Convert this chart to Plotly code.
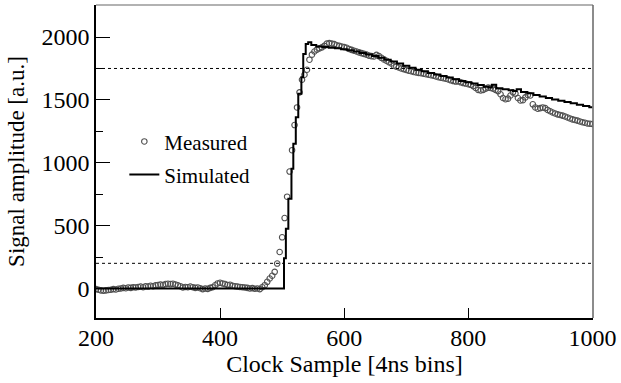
import plotly.graph_objects as go

# Measured: every 4 clock samples from 200 to 1000
meas_start, meas_step = 200, 4
meas_y = [
    -5, -10, -15, -18, -15, -12, -10, -5, -8, -2,          # 200-236
    0, 5, 2, 8, 5, 10, 8, 12, 15, 10,                     # 240-276
    18, 15, 22, 18, 25, 28, 32, 28, 35, 38,               # 280-316
    35, 38, 32, 25, 18, 8, 12, 10, 15, 10,                # 320-356
    5, 8, 2, -5, 0, -3, 5, 10, 25, 40,                    # 360-396
    45, 40, 35, 28, 30, 22, 18, 15, 12, 10,               # 400-436
    8, 5, 0, 3, -2, 0, -5, 10, 26, 53,                    # 440-476
    79, 101, 132, 198, 290, 407, 560, 730, 930, 1100,     # 480-516
    1300, 1440, 1560, 1660, 1700, 1740, 1820, 1860, 1885, 1900,  # 520-556
    1910, 1918, 1930, 1948, 1952, 1948, 1944, 1935, 1930, 1925,  # 560-596
    1920, 1915, 1905, 1898, 1891, 1885, 1878, 1872, 1866, 1860,  # 600-636
    1852, 1848, 1845, 1858, 1848, 1835, 1822, 1812, 1800, 1790,  # 640-676
    1772, 1765, 1758, 1750, 1745, 1738, 1732, 1728, 1722, 1718,  # 680-716
    1715, 1712, 1708, 1704, 1700, 1696, 1692, 1686, 1680, 1676,  # 720-756
    1672, 1668, 1662, 1656, 1650, 1646, 1648, 1640, 1634, 1630,  # 760-796
    1625, 1620, 1610, 1595, 1580, 1575, 1580, 1590, 1598, 1595,  # 800-836
    1590, 1580, 1570, 1545, 1515, 1505, 1510, 1535, 1560, 1550,  # 840-876
    1515, 1495, 1498, 1520, 1540, 1535, 1465, 1440, 1430, 1435,  # 880-916
    1440, 1435, 1420, 1410, 1400, 1392, 1385, 1380, 1375, 1368,  # 920-956
    1360, 1352, 1345, 1340, 1335, 1328, 1322, 1318, 1312, 1310,  # 960-996
    1308,                                                   # 1000
]
meas_x = [meas_start + meas_step * i for i in range(len(meas_y))]

# Simulated: step-wise waveform (value held until next sample)
sim_x = [200, 503, 506, 510, 515, 518, 522, 526, 531, 534, 538, 542, 547,
         555, 565, 575, 585, 595, 605, 615, 625, 635, 645, 655, 665, 675,
         685, 695, 705, 715, 725, 735, 745, 755, 765, 775, 785, 795, 805,
         815, 825, 833, 838, 845, 855, 865, 872, 878, 885, 895, 905, 915,
         925, 935, 945, 955, 965, 975, 985, 995, 1000]
sim_y = [0, 241, 476, 714, 952, 1151, 1362, 1548, 1680, 1865, 1944, 1958, 1937,
         1925, 1920, 1915, 1910, 1902, 1895, 1885, 1873, 1862, 1850, 1835, 1820, 1805,
         1790, 1772, 1755, 1740, 1727, 1715, 1703, 1690, 1678, 1664, 1650, 1640, 1630,
         1618, 1605, 1598, 1620, 1592, 1584, 1576, 1570, 1585, 1562, 1552, 1540, 1528,
         1515, 1504, 1494, 1484, 1474, 1462, 1452, 1442, 1442]

thresholds = [1750, 200]

x_ticks = [200, 400, 600, 800, 1000]
y_ticks = [0, 500, 1000, 1500, 2000]
x_range = [200, 1001]
y_range = [-235, 2255]

FONT = "Liberation Serif"

fig = go.Figure()
fig.add_trace(go.Scatter(
    x=meas_x, y=meas_y, mode="markers", name="Measured",
    marker=dict(symbol="circle-open", size=5.5, color="#505050", line=dict(width=1.1, color="#505050")),
    legend="legend",
))
fig.add_trace(go.Scatter(
    x=sim_x, y=sim_y, mode="lines", name="Simulated", line_shape="hv",
    line=dict(color="black", width=2),
    legend="legend2",
))

for t in thresholds:
    fig.add_shape(type="line", xref="paper", x0=0, x1=1, yref="y", y0=t, y1=t,
                  line=dict(color="black", width=1, dash="3px,3px"))

# top and right frame (grey)
fig.add_shape(type="line", xref="paper", yref="paper", x0=0, x1=1, y0=1, y1=1,
              line=dict(color="#666666", width=1.2))
fig.add_shape(type="line", xref="paper", yref="paper", x0=1, x1=1, y0=0, y1=1,
              line=dict(color="#666666", width=1.5))

fig.update_layout(
    width=621, height=383,
    margin=dict(l=96, r=25, t=5, b=65),
    paper_bgcolor="white", plot_bgcolor="white",
    font=dict(family=FONT, color="black", size=24),
    showlegend=True,
    legend=dict(x=0.057, y=0.563, xanchor="left", yanchor="middle",
                bgcolor="rgba(0,0,0,0)", font=dict(size=21, family=FONT)),
    legend2=dict(x=0.057, y=0.457, xanchor="left", yanchor="middle",
                 bgcolor="rgba(0,0,0,0)", font=dict(size=21, family=FONT)),
)
fig.update_xaxes(
    range=x_range, tickvals=x_ticks, ticktext=[str(v) for v in x_ticks],
    ticks="inside", ticklen=10, tickwidth=1, tickcolor="black",
    showline=True, linecolor="black", linewidth=1.5,
    showgrid=False, zeroline=False,
    title=dict(text="Clock Sample [4ns bins]", font=dict(size=24, family=FONT), standoff=0),
    tickfont=dict(size=24, family=FONT),
    ticklabelstandoff=-3,
)
fig.update_yaxes(
    range=y_range, tickvals=y_ticks, ticktext=[str(v) for v in y_ticks],
    ticks="inside", ticklen=14, tickwidth=1, tickcolor="black",
    minor=dict(ticks="inside", ticklen=7, dtick=250, tickcolor="black", tickwidth=1),
    showline=True, linecolor="black", linewidth=1.5,
    showgrid=False, zeroline=False,
    title=dict(text="Signal amplitude [a.u.]", font=dict(size=23, family=FONT), standoff=10),
    tickfont=dict(size=24, family=FONT),
)

fig.write_html("out.html")
